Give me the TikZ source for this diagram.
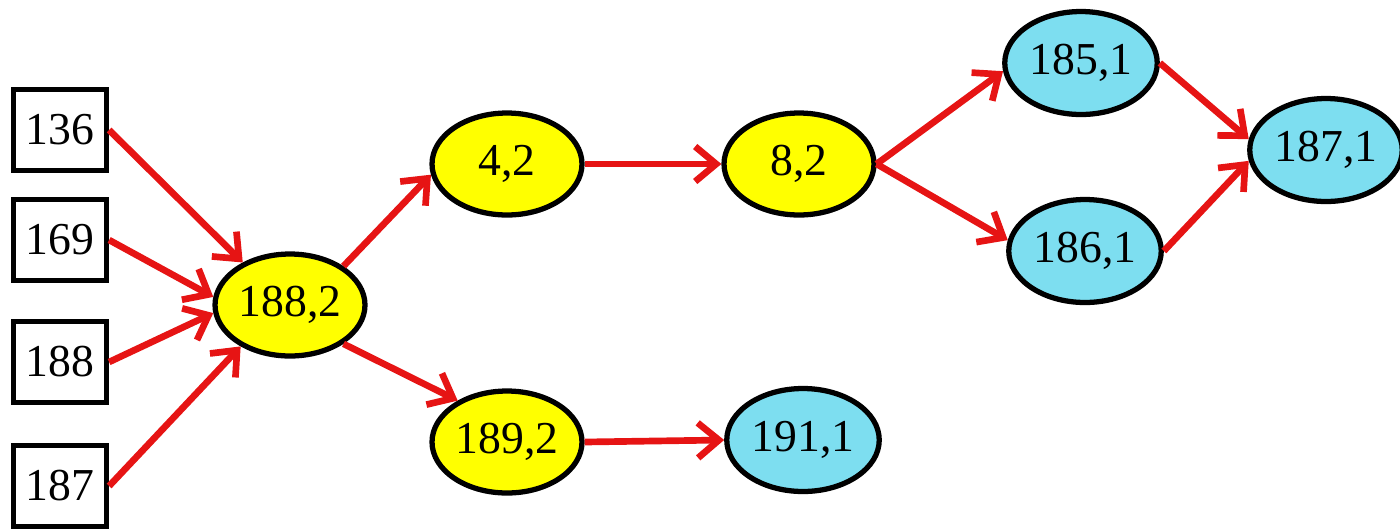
\documentclass[tikz,border=0pt]{standalone}
\usepackage{fontspec}
\setmainfont{Liberation Serif}
\usetikzlibrary{shapes.geometric,arrows.meta}
\definecolor{nodeyellow}{RGB}{255,255,0}
\definecolor{nodecyan}{RGB}{125,222,240}
\definecolor{arrred}{RGB}{230,20,20}
\begin{document}
\begin{tikzpicture}[x=0.02cm,y=-0.02cm,
  every node/.style={font=\fontsize{26}{30}\selectfont},
  srcbox/.style={draw=black,line width=3pt,fill=white,rectangle,minimum width=1.86cm,minimum height=1.62cm,inner sep=0pt},
  yell/.style={draw=black,line width=3pt,fill=nodeyellow,ellipse,minimum width=3.0cm,minimum height=2.04cm,inner sep=0pt},
  cyanell/.style={draw=black,line width=3pt,fill=nodecyan,ellipse,minimum width=3.05cm,minimum height=2.06cm,inner sep=0pt},
  conn/.style={draw=arrred,line width=3.8pt,-{Straight Barb[length=0.42cm,width=0.7cm]}}]
\useasboundingbox (0,0) rectangle (1400,529);
% source boxes
\node[srcbox] (b136) at (60,130) {136};
\node[srcbox] (b169) at (60,240) {169};
\node[srcbox] (b188) at (60,362) {188};
\node[srcbox] (b187) at (60,486) {187};
% yellow nodes
\node[yell] (e1882) at (290,305) {188,2};
\node[yell] (e42) at (507,164) {4,2};
\node[yell] (e82) at (799,164) {8,2};
\node[yell] (e1892) at (507,442) {189,2};
% cyan nodes
\node[cyanell] (e1911) at (803,440) {191,1};
\node[cyanell] (e1851) at (1081,63) {185,1};
\node[cyanell] (e1861) at (1085,251) {186,1};
\node[cyanell] (e1871) at (1326,150) {187,1};
% connectors
\draw[conn] (b136.east) -- (e1882.138);
\draw[conn] (b169.east) -- (e1882.174);
\draw[conn] (b188.east) -- (e1882.186);
\draw[conn] (b187.east) -- (e1882.220);
\draw[conn] (e1882.36) -- (e42.188);
\draw[conn] (e1882.-36) -- (e1892.140);
\draw[conn] (e42.east) -- (e82.west);
\draw[conn] (e1892.east) -- (e1911.west);
\draw[conn] (e82.east) -- (e1851.186);
\draw[conn] (e82.east) -- (e1861.172);
\draw[conn] (e1851.east) -- (e1871.172);
\draw[conn] (e1861.east) -- (e1871.188);
\end{tikzpicture}
\end{document}
